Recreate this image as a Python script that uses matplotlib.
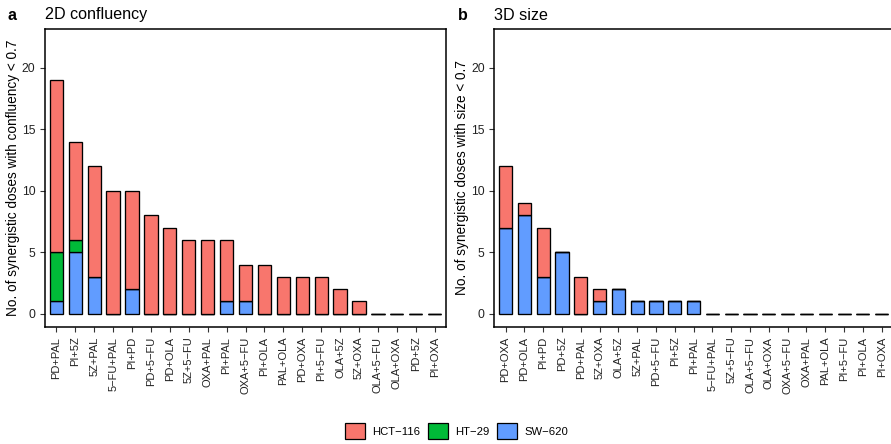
import matplotlib
matplotlib.use("Agg")
import matplotlib.pyplot as plt
import matplotlib.patches as mpatches
import numpy as np

plt.rcParams["font.family"] = ["Liberation Sans", "DejaVu Sans"]

colors = {"HCT\u2212116": "#F8766D", "HT\u221229": "#00BA38", "SW\u2212620": "#619CFF"}

# 2D confluency
labels_2d = [
    "PD+PAL", "PI+5Z", "5Z+PAL", "5\u2212FU+PAL", "PI+PD", "PD+5\u2212FU", "PD+OLA",
    "5Z+5\u2212FU", "OXA+PAL", "PI+PAL", "OXA+5\u2212FU", "PI+OLA", "PAL+OLA", "PD+OXA",
    "PI+5\u2212FU", "OLA+5Z", "5Z+OXA", "OLA+5\u2212FU", "OLA+OXA", "PD+5Z", "PI+OXA",
]
sw620_2d = [1, 5, 3, 0, 2, 0, 0, 0, 0, 1, 1, 0, 0, 0, 0, 0, 0, 0, 0, 0, 0]
ht29_2d = [4, 1, 0, 0, 0, 0, 0, 0, 0, 0, 0, 0, 0, 0, 0, 0, 0, 0, 0, 0, 0]
hct116_2d = [14, 8, 9, 10, 8, 8, 7, 6, 6, 5, 3, 4, 3, 3, 3, 2, 1, 0, 0, 0, 0]

# 3D size
labels_3d = [
    "PD+OXA", "PD+OLA", "PI+PD", "PD+5Z", "PD+PAL", "5Z+OXA", "OLA+5Z", "5Z+PAL",
    "PD+5\u2212FU", "PI+5Z", "PI+PAL", "5\u2212FU+PAL", "5Z+5\u2212FU", "OLA+5\u2212FU",
    "OLA+OXA", "OXA+5\u2212FU", "OXA+PAL", "PAL+OLA", "PI+5\u2212FU", "PI+OLA", "PI+OXA",
]
sw620_3d = [7, 8, 3, 5, 0, 1, 2, 1, 1, 1, 1, 0, 0, 0, 0, 0, 0, 0, 0, 0, 0]
ht29_3d = [0] * 21
hct116_3d = [5, 1, 4, 0, 3, 1, 0, 0, 0, 0, 0, 0, 0, 0, 0, 0, 0, 0, 0, 0, 0]

W, H = 891, 444
fig = plt.figure(figsize=(W / 100, H / 100), dpi=100)

ax_a = fig.add_axes([45 / W, 1 - 327 / H, 401 / W, 298 / H])
ax_b = fig.add_axes([494.3 / W, 1 - 327 / H, 398.7 / W, 298 / H])


def stacked(ax, labels, sw, ht, hct, ylabel):
    x = np.arange(len(labels))
    bottom = np.zeros(len(labels))
    for name, vals in [("SW\u2212620", sw), ("HT\u221229", ht), ("HCT\u2212116", hct)]:
        vals = np.array(vals, dtype=float)
        ax.bar(x, vals, bottom=bottom, width=0.7, color=colors[name],
               edgecolor="black", linewidth=0.95)
        bottom += vals
    ax.set_xlim(-0.6, len(labels) - 0.4)
    ax.set_ylim(-1.08, 23.15)
    ax.set_yticks([0, 5, 10, 15, 20])
    ax.set_xticks(x)
    ax.set_xticklabels(labels, rotation=90, fontsize=8, color="#222222")
    ax.tick_params(axis="y", labelsize=8.7, labelcolor="#222222")
    ax.tick_params(length=3.5, width=0.8, color="#333333")
    ax.set_ylabel(ylabel, fontsize=9.8, labelpad=1.5)
    for s in ax.spines.values():
        s.set_linewidth(1.1)


stacked(ax_a, labels_2d, sw620_2d, ht29_2d, hct116_2d,
        "No. of synergistic doses with confluency < 0.7")
stacked(ax_b, labels_3d, sw620_3d, ht29_3d, hct116_3d,
        "No. of synergistic doses with size < 0.7")

fig.text(8 / W, 1 - 19.5 / H, "a", fontsize=11.5, fontweight="bold", va="baseline")
fig.text(45 / W, 1 - 19.5 / H, "2D confluency", fontsize=11.6, va="baseline")
fig.text(458 / W, 1 - 19.5 / H, "b", fontsize=11.5, fontweight="bold", va="baseline")
fig.text(494 / W, 1 - 19.5 / H, "3D size", fontsize=11.6, va="baseline")

handles = [mpatches.Patch(facecolor=c, edgecolor="black", linewidth=0.9, label=n)
           for n, c in colors.items()]
fig.legend(handles=handles, loc="center", bbox_to_anchor=(456.5 / W, 1 - 431 / H),
           ncol=3, frameon=False, fontsize=8.1, handlelength=1.8, handleheight=1.8,
           handletextpad=0.6, columnspacing=0.7)

fig.savefig("out.png", dpi=100)
